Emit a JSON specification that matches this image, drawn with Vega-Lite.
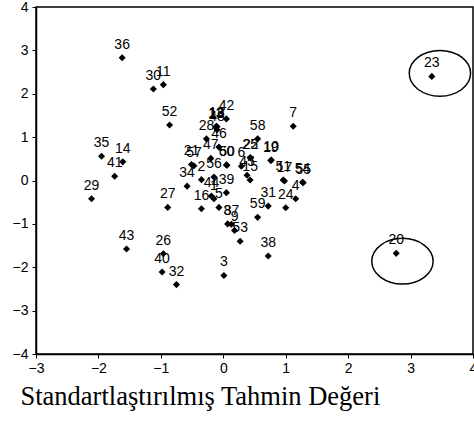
{
  "$schema": "https://vega.github.io/schema/vega-lite/v6.json",
  "width": 437,
  "height": 347,
  "autosize": "none",
  "padding": {"left": 36, "top": 7, "right": 1, "bottom": 71},
  "background": "white",
  "config": {
    "view": {"stroke": "black", "strokeWidth": 1.5},
    "axis": {
      "grid": false,
      "domainColor": "black",
      "domainWidth": 1.5,
      "tickColor": "black",
      "tickWidth": 1,
      "tickSize": 4,
      "labelColor": "black",
      "labelFont": "Liberation Sans",
      "labelFontSize": 14,
      "labelFlush": false,
      "labelOverlap": false,
      "format": "d"
    }
  },
  "datasets": {
    "pts": [
      {"id": "36", "x": -1.62, "y": 2.83},
      {"id": "30", "x": -1.12, "y": 2.11},
      {"id": "11", "x": -0.96, "y": 2.21},
      {"id": "52", "x": -0.86, "y": 1.28},
      {"id": "42", "x": 0.05, "y": 1.42},
      {"id": "12", "x": -0.11, "y": 1.25},
      {"id": "18", "x": -0.10, "y": 1.24},
      {"id": "13", "x": -0.12, "y": 1.23},
      {"id": "48", "x": -0.10, "y": 1.17},
      {"id": "28", "x": -0.27, "y": 0.96},
      {"id": "46", "x": -0.07, "y": 0.77},
      {"id": "58", "x": 0.55, "y": 0.96},
      {"id": "7", "x": 1.12, "y": 1.25},
      {"id": "35", "x": -1.95, "y": 0.56},
      {"id": "14", "x": -1.61, "y": 0.43},
      {"id": "41", "x": -1.74, "y": 0.10},
      {"id": "29", "x": -2.11, "y": -0.42},
      {"id": "47", "x": -0.20, "y": 0.51},
      {"id": "21", "x": -0.51, "y": 0.37},
      {"id": "57", "x": -0.47, "y": 0.34},
      {"id": "50", "x": 0.06, "y": 0.35},
      {"id": "60", "x": 0.05, "y": 0.36},
      {"id": "6", "x": 0.29, "y": 0.33},
      {"id": "22", "x": 0.44, "y": 0.52},
      {"id": "25", "x": 0.43, "y": 0.53},
      {"id": "45", "x": 0.38, "y": 0.12},
      {"id": "15", "x": 0.43, "y": 0.01},
      {"id": "19", "x": 0.76, "y": 0.46},
      {"id": "10", "x": 0.77, "y": 0.47},
      {"id": "51", "x": 0.96, "y": 0.01},
      {"id": "17", "x": 0.98, "y": -0.01},
      {"id": "54", "x": 1.27, "y": -0.04},
      {"id": "55", "x": 1.28, "y": -0.05},
      {"id": "56", "x": -0.15, "y": 0.08},
      {"id": "2", "x": -0.35, "y": 0.02},
      {"id": "34", "x": -0.58, "y": -0.13},
      {"id": "39", "x": 0.05, "y": -0.28},
      {"id": "44", "x": -0.19, "y": -0.36},
      {"id": "1", "x": -0.15, "y": -0.42},
      {"id": "5", "x": -0.07, "y": -0.62},
      {"id": "16", "x": -0.35, "y": -0.65},
      {"id": "8", "x": 0.07, "y": -1.00},
      {"id": "37", "x": 0.13, "y": -1.01},
      {"id": "9", "x": 0.18, "y": -1.15},
      {"id": "53", "x": 0.27, "y": -1.40},
      {"id": "27", "x": -0.89, "y": -0.62},
      {"id": "31", "x": 0.72, "y": -0.59},
      {"id": "24", "x": 1.00, "y": -0.63},
      {"id": "4", "x": 1.16, "y": -0.42},
      {"id": "59", "x": 0.55, "y": -0.85},
      {"id": "38", "x": 0.72, "y": -1.74},
      {"id": "43", "x": -1.55, "y": -1.58},
      {"id": "26", "x": -0.96, "y": -1.69},
      {"id": "40", "x": -0.98, "y": -2.11},
      {"id": "32", "x": -0.75, "y": -2.40},
      {"id": "3", "x": 0.01, "y": -2.19},
      {"id": "23", "x": 3.34, "y": 2.40},
      {"id": "20", "x": 2.77, "y": -1.68}
    ],
    "rings": [
      {"x": 3.47, "y": 2.47},
      {"x": 2.87, "y": -1.86}
    ]
  },
  "layer": [
    {
      "data": {"name": "pts"},
      "mark": {"type": "point", "shape": "diamond", "filled": true, "size": 50, "color": "black", "opacity": 1},
      "encoding": {
        "x": {"field": "x", "type": "quantitative",
              "scale": {"domain": [-3, 4], "nice": false, "zero": false},
              "axis": {"values": [-3, -2, -1, 0, 1, 2, 3, 4], "labelPadding": 3,
                       "title": "Standartlaştırılmış Tahmin Değeri",
                       "titleFont": "Liberation Serif", "titleFontSize": 26.5, "titleFontWeight": "normal",
                       "titleColor": "black", "titleX": -16, "titleY": 50, "titleAlign": "left",
                       "titleBaseline": "alphabetic", "titleAnchor": null}},
        "y": {"field": "y", "type": "quantitative",
              "scale": {"domain": [-4, 4], "nice": false, "zero": false},
              "axis": {"values": [-4, -3, -2, -1, 0, 1, 2, 3, 4], "labelPadding": 4, "title": null}}
      }
    },
    {
      "data": {"name": "pts"},
      "mark": {"type": "text", "font": "Liberation Sans", "fontSize": 14, "color": "black", "baseline": "middle", "align": "center", "dy": -13},
      "encoding": {
        "x": {"field": "x", "type": "quantitative"},
        "y": {"field": "y", "type": "quantitative"},
        "text": {"field": "id", "type": "nominal"}
      }
    },
    {
      "data": {"name": "rings"},
      "mark": {"type": "point", "shape": "M -1 0 A 1 0.745 0 1 1 1 0 A 1 0.745 0 1 1 -1 0 Z", "size": 3760, "filled": false, "fill": null, "stroke": "black", "strokeWidth": 1.5, "opacity": 1},
      "encoding": {
        "x": {"field": "x", "type": "quantitative"},
        "y": {"field": "y", "type": "quantitative"}
      }
    }
  ]
}
